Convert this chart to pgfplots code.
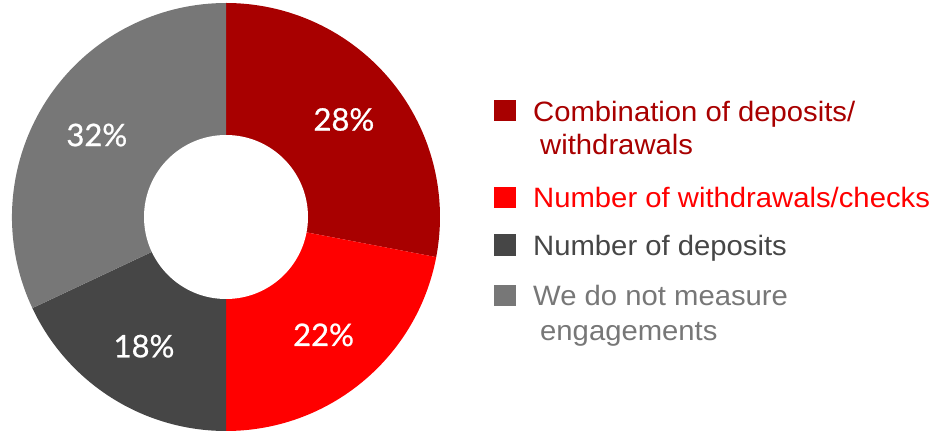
\documentclass[border=0pt]{standalone}
\usepackage{pgfplots}
\usepackage{pgfplotstable}
\pgfplotsset{compat=1.18}
\usepackage{fontspec}
\setmainfont{Liberation Sans}
\newfontfamily\legfont[FakeStretch=1.045]{Liberation Sans}
\newfontfamily\labfont[FakeBold=0.8]{Lato}
\definecolor{cA}{HTML}{A80000}
\definecolor{cB}{HTML}{FF0000}
\definecolor{cC}{HTML}{464646}
\definecolor{cD}{HTML}{777777}
\pgfplotstableread{
value color
28 cA
22 cB
18 cC
32 cD
}\donutdata
\begin{document}
\begin{tikzpicture}
\begin{axis}[x=1pt,y=1pt,xmin=0,xmax=939,ymin=0,ymax=431,hide axis,clip=false]
\pgfplotsextra{%
  \gdef\angstart{90}%
  \pgfplotstablegetrowsof{\donutdata}%
  \pgfmathtruncatemacro\nrows{\pgfplotsretval-1}%
  \foreach \i in {0,...,\nrows}{%
    \pgfplotstablegetelem{\i}{value}\of\donutdata \edef\val{\pgfplotsretval}%
    \pgfplotstablegetelem{\i}{color}\of\donutdata \edef\col{\pgfplotsretval}%
    \pgfmathsetmacro\angend{\angstart-3.6*\val}%
    \fill[\col] (axis cs:226,214) -- ++(\angstart:214pt) arc[start angle=\angstart,end angle=\angend,radius=214pt] -- cycle;
    \xdef\angstart{\angend}%
  }%
  \fill[white] (axis cs:226,214) circle[radius=82pt];
  \gdef\angstart{90}%
  \foreach \i in {0,...,\nrows}{%
    \pgfplotstablegetelem{\i}{value}\of\donutdata \edef\val{\pgfplotsretval}%
    \pgfmathsetmacro\angend{\angstart-3.6*\val}%
    \pgfmathsetmacro\angmid{(\angstart+\angend)/2}%
    \path (axis cs:226,214) ++(\angmid:153pt) node[text=white,font=\labfont\fontsize{31}{31}\selectfont] {\val\%};
    \xdef\angstart{\angend}%
  }%
  % legend
  \fill[cA] (axis cs:494,310) rectangle (axis cs:516,331);
  \fill[cB] (axis cs:494,223) rectangle (axis cs:516,244);
  \fill[cC] (axis cs:494,175) rectangle (axis cs:516,197);
  \fill[cD] (axis cs:494,125) rectangle (axis cs:516,146);
  \begin{scope}[every node/.style={anchor=base west,inner sep=0pt,font=\legfont\fontsize{28}{28}\selectfont}]
  \node[text=cA] at (axis cs:533,309) {Combination of deposits/};
  \node[text=cA] at (axis cs:540,276) {withdrawals};
  \node[text=cB] at (axis cs:533,223) {Number of withdrawals/checks};
  \node[text=cC] at (axis cs:533,175) {Number of deposits};
  \node[text=cD] at (axis cs:533,125) {We do not measure};
  \node[text=cD] at (axis cs:540,90) {engagements};
  \end{scope}
}
\end{axis}
\pgfresetboundingbox
\useasboundingbox (0,0) rectangle (939pt,431pt);
\end{tikzpicture}
\end{document}
